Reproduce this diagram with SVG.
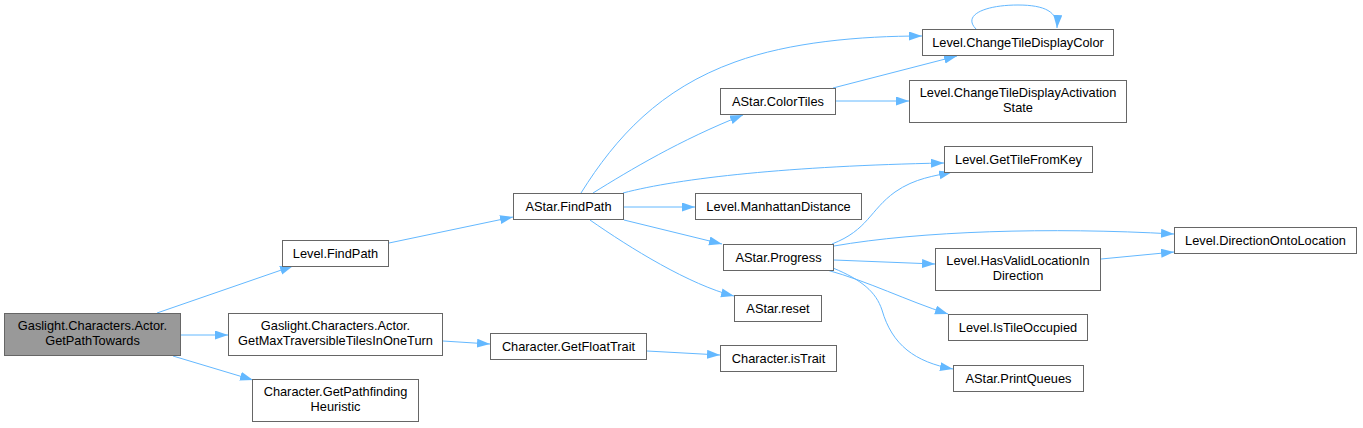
<svg xmlns="http://www.w3.org/2000/svg" width="1363" height="428" viewBox="0 0 1363 428">
<style>
.n rect{fill:#fff;stroke:#666;stroke-width:1}
.n.root rect{fill:#999}
.n text{font-family:"Liberation Sans",Arial,sans-serif;font-size:12.8px;fill:#000;text-anchor:middle}
.e path{fill:none;stroke:#63b8ff;stroke-width:1}
</style>
<defs>
<marker id="ah" markerUnits="userSpaceOnUse" markerWidth="14" markerHeight="10" refX="13" refY="4.5" orient="auto">
<path d="M0,0 L13,4.5 L0,9 z" fill="#63b8ff"/>
</marker>
</defs>
<rect width="1363" height="428" fill="#fff"/>
<g id="edges" class="e">
<path marker-end="url(#ah)" d="M157,313 L293,266"/>
<path marker-end="url(#ah)" d="M181,335 L228,335"/>
<path marker-end="url(#ah)" d="M173,356 L253,380"/>
<path marker-end="url(#ah)" d="M389,243 L513,217"/>
<path marker-end="url(#ah)" d="M443,341 L490,344"/>
<path marker-end="url(#ah)" d="M647,351 L720,355"/>
<path marker-end="url(#ah)" d="M581,193 C616,137 660,89 735,62 C790,42 860,36 922,36"/>
<path marker-end="url(#ah)" d="M593,193 C630,170 680,140 743,115"/>
<path marker-end="url(#ah)" d="M623,193 C680,178 790,166 944,163"/>
<path marker-end="url(#ah)" d="M624,207 L695,207"/>
<path marker-end="url(#ah)" d="M624,220 L722,244"/>
<path marker-end="url(#ah)" d="M590,220 C630,248 690,285 734,296"/>
<path marker-end="url(#ah)" d="M833,88 L957,56"/>
<path marker-end="url(#ah)" d="M836,101 L909,101"/>
<path marker-end="url(#ah)" d="M976,29 C962,15 985,5 1018,5 C1045,5 1058,12 1057,28"/>
<path marker-end="url(#ah)" d="M832,244 C868,230 870,210 895,192 C915,178 935,176 952,172"/>
<path marker-end="url(#ah)" d="M834,246 C920,231 1050,227 1174,234"/>
<path marker-end="url(#ah)" d="M834,260 L935,264"/>
<path marker-end="url(#ah)" d="M827,270 C870,282 905,300 948,314"/>
<path marker-end="url(#ah)" d="M833,268 C862,280 876,292 882,310 C892,345 915,362 953,369"/>
<path marker-end="url(#ah)" d="M1101,259 L1174,252"/>
</g>
<g id="n_root" class="n root"><rect x="4.5" y="313.5" width="176" height="42"/><text x="92.5" y="330">Gaslight.Characters.Actor.</text><text x="92.5" y="345">GetPathTowards</text></g>
<g id="n_levelFindPath" class="n"><rect x="282.5" y="240.5" width="106" height="26"/><text x="335.5" y="258">Level.FindPath</text></g>
<g id="n_getMax" class="n"><rect x="228.5" y="313.5" width="214" height="42"/><text x="335.5" y="330">Gaslight.Characters.Actor.</text><text x="335.5" y="345">GetMaxTraversibleTilesInOneTurn</text></g>
<g id="n_heuristic" class="n"><rect x="252.5" y="379.5" width="166" height="42"/><text x="335.5" y="396">Character.GetPathfinding</text><text x="335.5" y="411">Heuristic</text></g>
<g id="n_astarFindPath" class="n"><rect x="513.5" y="193.5" width="110" height="26"/><text x="568.5" y="211">AStar.FindPath</text></g>
<g id="n_floatTrait" class="n"><rect x="490.5" y="333.5" width="156" height="26"/><text x="568.5" y="351">Character.GetFloatTrait</text></g>
<g id="n_colorTiles" class="n"><rect x="720.5" y="88.5" width="115" height="26"/><text x="778" y="106">AStar.ColorTiles</text></g>
<g id="n_manhattan" class="n"><rect x="695.5" y="193.5" width="166" height="26"/><text x="778.5" y="211">Level.ManhattanDistance</text></g>
<g id="n_progress" class="n"><rect x="723.5" y="244.5" width="110" height="26"/><text x="778.5" y="262">AStar.Progress</text></g>
<g id="n_reset" class="n"><rect x="734.5" y="295.5" width="87" height="26"/><text x="778" y="313">AStar.reset</text></g>
<g id="n_isTrait" class="n"><rect x="720.5" y="345.5" width="116" height="26"/><text x="778.5" y="363">Character.isTrait</text></g>
<g id="n_changeColor" class="n"><rect x="922.5" y="29.5" width="191" height="26"/><text x="1018" y="47">Level.ChangeTileDisplayColor</text></g>
<g id="n_activation" class="n"><rect x="909.5" y="80.5" width="217" height="42"/><text x="1018" y="97">Level.ChangeTileDisplayActivation</text><text x="1018" y="112">State</text></g>
<g id="n_getTile" class="n"><rect x="944.5" y="146.5" width="148" height="26"/><text x="1018.5" y="164">Level.GetTileFromKey</text></g>
<g id="n_hasValid" class="n"><rect x="935.5" y="248.5" width="165" height="42"/><text x="1018" y="265">Level.HasValidLocationIn</text><text x="1018" y="280">Direction</text></g>
<g id="n_occupied" class="n"><rect x="948.5" y="314.5" width="139" height="26"/><text x="1018" y="332">Level.IsTileOccupied</text></g>
<g id="n_printQueues" class="n"><rect x="953.5" y="365.5" width="130" height="26"/><text x="1018.5" y="383">AStar.PrintQueues</text></g>
<g id="n_direction" class="n"><rect x="1174.5" y="227.5" width="182" height="26"/><text x="1265.5" y="245">Level.DirectionOntoLocation</text></g>
</svg>
